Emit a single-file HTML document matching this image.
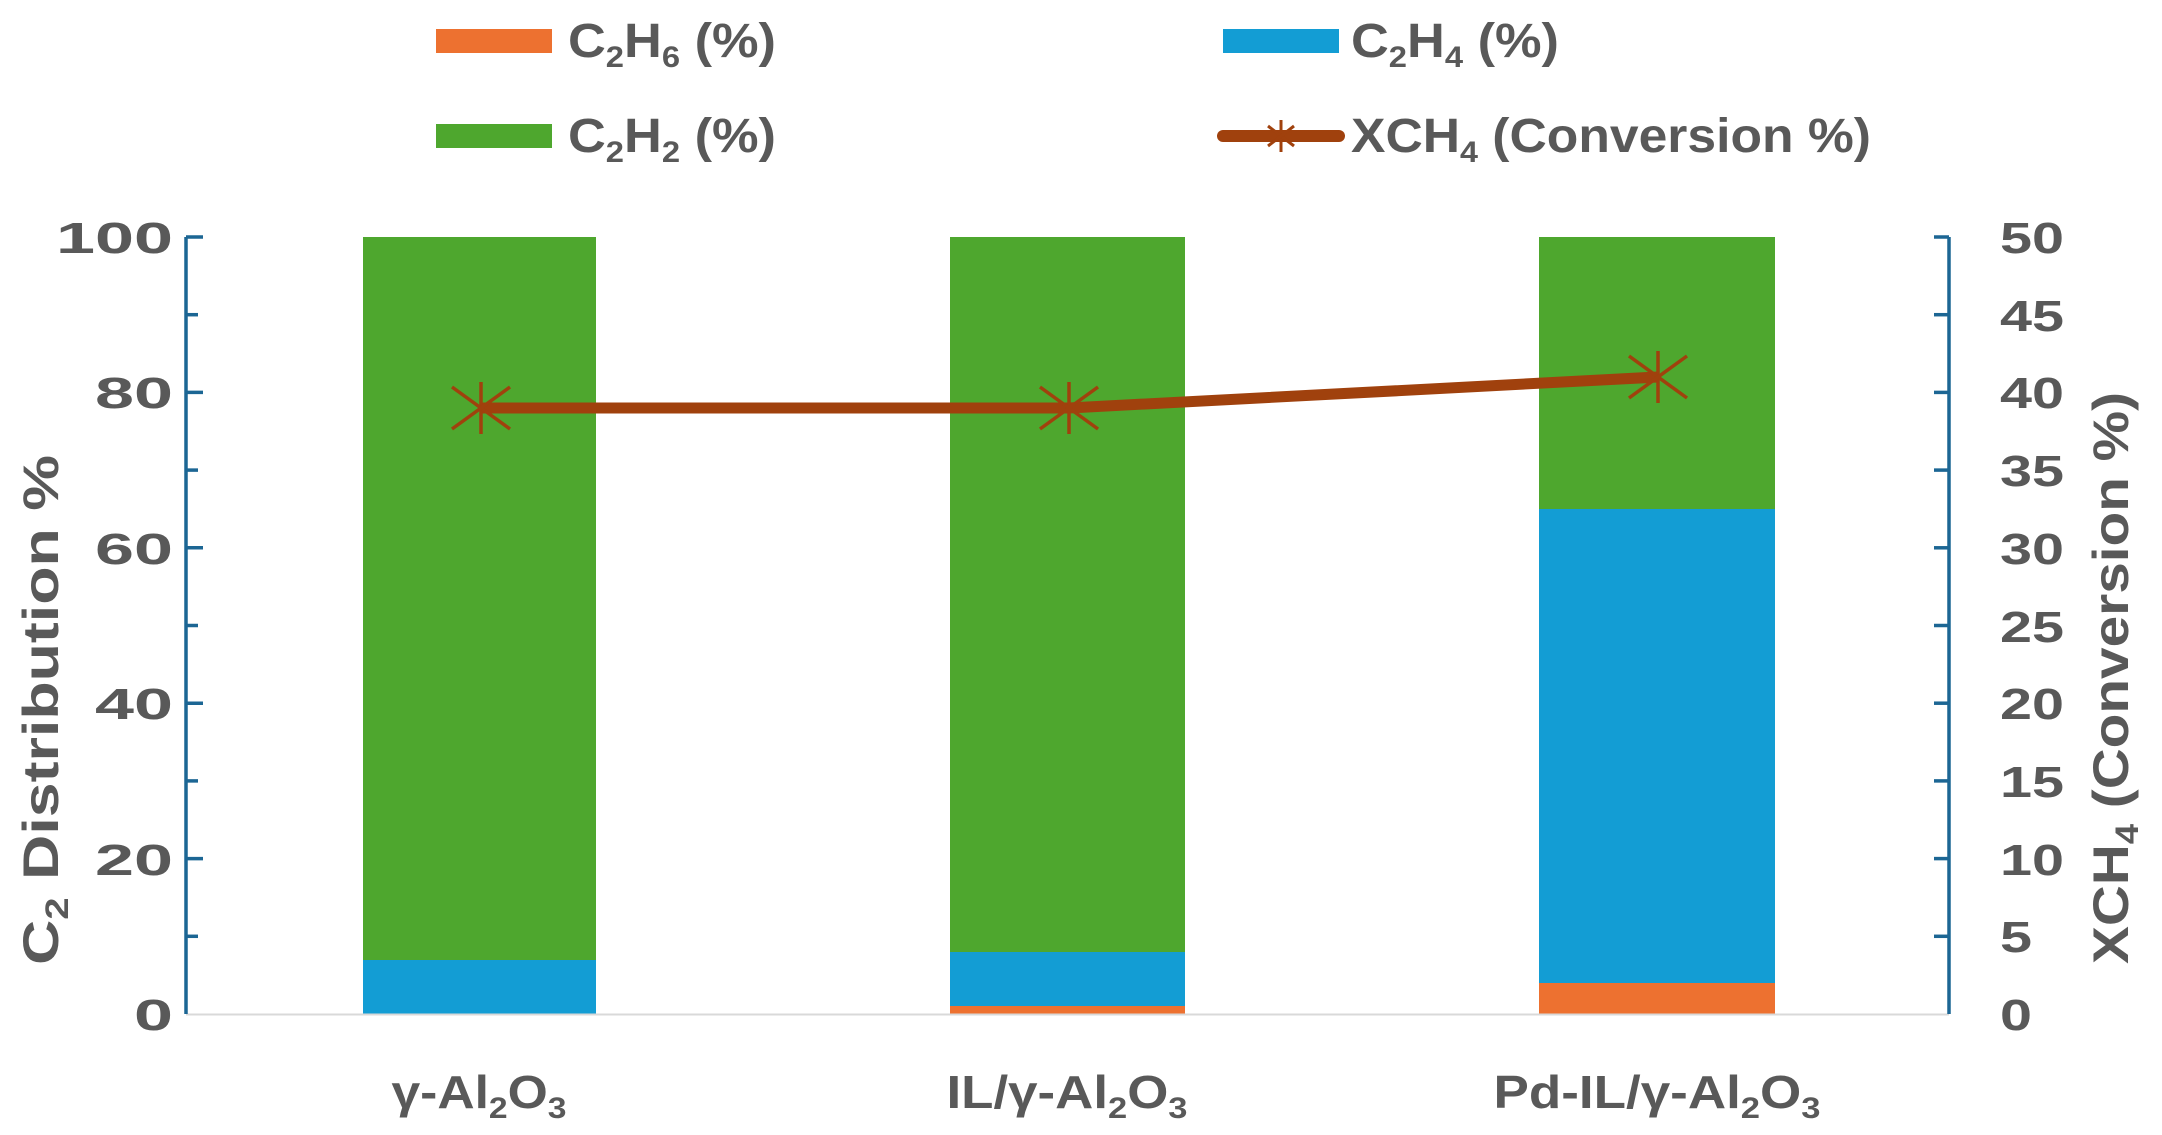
<!DOCTYPE html>
<html><head><meta charset="utf-8"><style>
html,body{margin:0;padding:0;background:#fff;}
svg{display:block;font-family:"Liberation Sans",sans-serif;font-weight:bold;}
</style></head><body>
<svg width="2162" height="1135" viewBox="0 0 2162 1135" xmlns="http://www.w3.org/2000/svg">
<!-- legend -->
<rect x="436" y="29" width="116" height="24" fill="#ED7130"/>
<text x="568" y="57" font-size="48" fill="#595959" textLength="208" lengthAdjust="spacingAndGlyphs">C<tspan font-size="30" dy="10">2</tspan><tspan dy="-10">H</tspan><tspan font-size="30" dy="10">6</tspan><tspan dy="-10"> (%)</tspan></text>
<rect x="1223" y="29" width="116" height="24" fill="#139DD4"/>
<text x="1351" y="57" font-size="48" fill="#595959" textLength="208" lengthAdjust="spacingAndGlyphs">C<tspan font-size="30" dy="10">2</tspan><tspan dy="-10">H</tspan><tspan font-size="30" dy="10">4</tspan><tspan dy="-10"> (%)</tspan></text>
<rect x="436" y="124" width="116" height="24" fill="#4EA72E"/>
<text x="568" y="152" font-size="48" fill="#595959" textLength="208" lengthAdjust="spacingAndGlyphs">C<tspan font-size="30" dy="10">2</tspan><tspan dy="-10">H</tspan><tspan font-size="30" dy="10">2</tspan><tspan dy="-10"> (%)</tspan></text>
<line x1="1223" y1="136" x2="1339" y2="136" stroke="#A0410D" stroke-width="12" stroke-linecap="round"/>
<g stroke="#A0410D" stroke-width="3"><line x1="1281" y1="120" x2="1281" y2="152"/><line x1="1268" y1="126" x2="1294" y2="146"/><line x1="1268" y1="146" x2="1294" y2="126"/></g>
<text x="1351" y="152" font-size="48" fill="#595959" textLength="520" lengthAdjust="spacingAndGlyphs">XCH<tspan font-size="30" dy="10">4</tspan><tspan dy="-10"> (Conversion %)</tspan></text>

<!-- bars -->
<rect x="363" y="237" width="233" height="723" fill="#4EA72E"/>
<rect x="363" y="960" width="233" height="54" fill="#139DD4"/>
<rect x="950" y="237" width="235" height="715" fill="#4EA72E"/>
<rect x="950" y="952" width="235" height="54" fill="#139DD4"/>
<rect x="950" y="1006" width="235" height="8" fill="#ED7130"/>
<rect x="1539" y="237" width="236" height="272" fill="#4EA72E"/>
<rect x="1539" y="509" width="236" height="474" fill="#139DD4"/>
<rect x="1539" y="983" width="236" height="31" fill="#ED7130"/>

<!-- baseline -->
<line x1="186" y1="1014.5" x2="1949" y2="1014.5" stroke="#d9d9d9" stroke-width="2"/>
<!-- axes -->
<g stroke="#1C6694" stroke-width="3.5">
<line x1="186" y1="237" x2="186" y2="1014"/>
<line x1="186" y1="237" x2="203" y2="237"/><line x1="186" y1="314.7" x2="198" y2="314.7"/>
<line x1="186" y1="392.4" x2="203" y2="392.4"/><line x1="186" y1="470.1" x2="198" y2="470.1"/>
<line x1="186" y1="547.8" x2="203" y2="547.8"/><line x1="186" y1="625.5" x2="198" y2="625.5"/>
<line x1="186" y1="703.2" x2="203" y2="703.2"/><line x1="186" y1="780.9" x2="198" y2="780.9"/>
<line x1="186" y1="858.6" x2="203" y2="858.6"/><line x1="186" y1="936.3" x2="198" y2="936.3"/>
<line x1="1949" y1="237" x2="1949" y2="1014"/>
<line x1="1934" y1="237" x2="1949" y2="237"/><line x1="1934" y1="314.7" x2="1949" y2="314.7"/>
<line x1="1934" y1="392.4" x2="1949" y2="392.4"/><line x1="1934" y1="470.1" x2="1949" y2="470.1"/>
<line x1="1934" y1="547.8" x2="1949" y2="547.8"/><line x1="1934" y1="625.5" x2="1949" y2="625.5"/>
<line x1="1934" y1="703.2" x2="1949" y2="703.2"/><line x1="1934" y1="780.9" x2="1949" y2="780.9"/>
<line x1="1934" y1="858.6" x2="1949" y2="858.6"/><line x1="1934" y1="936.3" x2="1949" y2="936.3"/>
</g>
<g font-size="44" fill="#595959" text-anchor="end" lengthAdjust="spacingAndGlyphs">
<text x="173" y="253" textLength="117" lengthAdjust="spacingAndGlyphs">100</text>
<text x="173" y="408" textLength="78" lengthAdjust="spacingAndGlyphs">80</text>
<text x="173" y="564" textLength="78" lengthAdjust="spacingAndGlyphs">60</text>
<text x="173" y="719" textLength="78" lengthAdjust="spacingAndGlyphs">40</text>
<text x="173" y="875" textLength="78" lengthAdjust="spacingAndGlyphs">20</text>
<text x="173" y="1030" textLength="39" lengthAdjust="spacingAndGlyphs">0</text>
</g>
<g font-size="44" fill="#595959" text-anchor="start">
<text x="2000" y="253" textLength="64" lengthAdjust="spacingAndGlyphs">50</text>
<text x="2000" y="331" textLength="64" lengthAdjust="spacingAndGlyphs">45</text>
<text x="2000" y="408" textLength="64" lengthAdjust="spacingAndGlyphs">40</text>
<text x="2000" y="486" textLength="64" lengthAdjust="spacingAndGlyphs">35</text>
<text x="2000" y="564" textLength="64" lengthAdjust="spacingAndGlyphs">30</text>
<text x="2000" y="642" textLength="64" lengthAdjust="spacingAndGlyphs">25</text>
<text x="2000" y="719" textLength="64" lengthAdjust="spacingAndGlyphs">20</text>
<text x="2000" y="797" textLength="64" lengthAdjust="spacingAndGlyphs">15</text>
<text x="2000" y="875" textLength="64" lengthAdjust="spacingAndGlyphs">10</text>
<text x="2000" y="952" textLength="32" lengthAdjust="spacingAndGlyphs">5</text>
<text x="2000" y="1030" textLength="32" lengthAdjust="spacingAndGlyphs">0</text>
</g>
<!-- axis titles -->
<text transform="translate(58,710) rotate(-90)" font-size="50" fill="#595959" text-anchor="middle" textLength="510" lengthAdjust="spacingAndGlyphs">C<tspan font-size="32" dy="10">2</tspan><tspan dy="-10"> Distribution %</tspan></text>
<text transform="translate(2128,678) rotate(-90)" font-size="50" fill="#595959" text-anchor="middle" textLength="572" lengthAdjust="spacingAndGlyphs">XCH<tspan font-size="32" dy="10">4</tspan><tspan dy="-10"> (Conversion %)</tspan></text>
<!-- x labels -->
<g font-size="46" fill="#595959" text-anchor="middle">
<text x="479" y="1108" textLength="175" lengthAdjust="spacingAndGlyphs">γ-Al<tspan font-size="30" dy="10">2</tspan><tspan dy="-10">O</tspan><tspan font-size="30" dy="10">3</tspan></text>
<text x="1067" y="1108" textLength="241" lengthAdjust="spacingAndGlyphs">IL/γ-Al<tspan font-size="30" dy="10">2</tspan><tspan dy="-10">O</tspan><tspan font-size="30" dy="10">3</tspan></text>
<text x="1657" y="1108" textLength="327" lengthAdjust="spacingAndGlyphs">Pd-IL/γ-Al<tspan font-size="30" dy="10">2</tspan><tspan dy="-10">O</tspan><tspan font-size="30" dy="10">3</tspan></text>
</g>
<!-- line -->
<polyline points="481,408 1069,408 1658,377" fill="none" stroke="#A0410D" stroke-width="11" stroke-linejoin="round"/>
<g stroke="#A0410D" stroke-width="3.5">
<line x1="481" y1="382" x2="481" y2="434"/><line x1="452" y1="387" x2="510" y2="429"/><line x1="452" y1="429" x2="510" y2="387"/>
<line x1="1069" y1="382" x2="1069" y2="434"/><line x1="1040" y1="387" x2="1098" y2="429"/><line x1="1040" y1="429" x2="1098" y2="387"/>
<line x1="1658" y1="351" x2="1658" y2="403"/><line x1="1629" y1="356" x2="1687" y2="398"/><line x1="1629" y1="398" x2="1687" y2="356"/>
</g>
</svg>
</body></html>
